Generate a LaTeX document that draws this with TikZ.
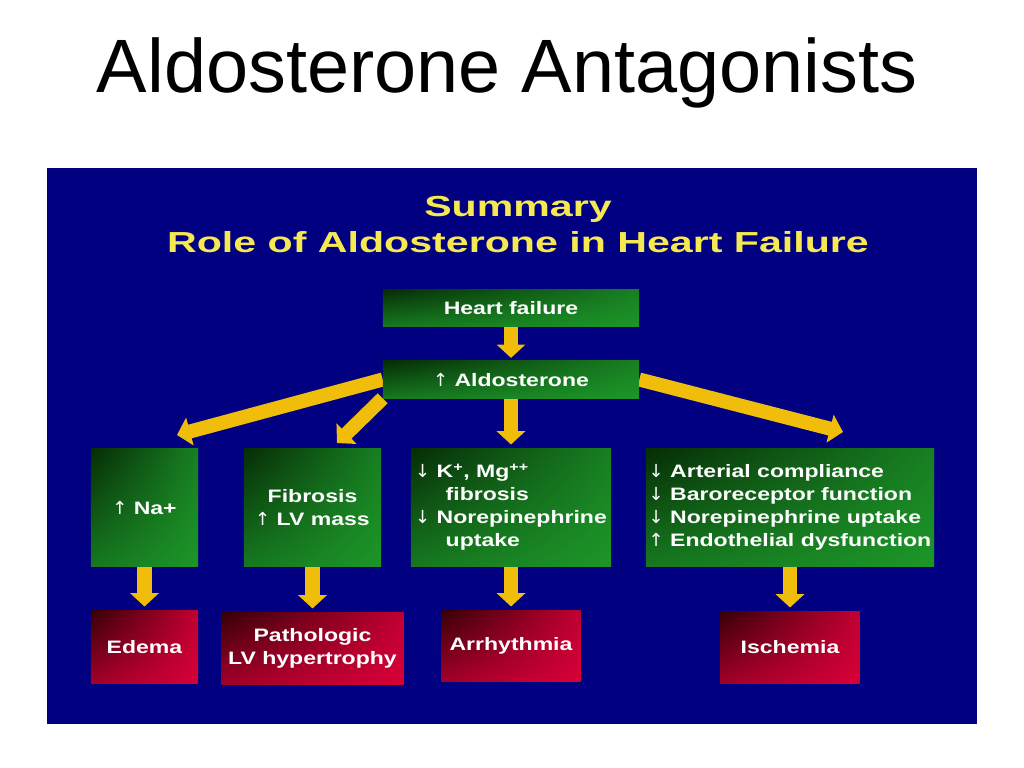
\documentclass[tikz,border=0pt]{standalone}
\usepackage{fontspec}
\setmainfont{Liberation Sans}
\newfontfamily\boxfont{Liberation Sans}[FakeStretch=1.28]
\newfontfamily\sumfont{Liberation Sans}[FakeStretch=1.42]
\newfontfamily\arrfont{DejaVu Sans}
\newcommand{\upar}{{\arrfont\mdseries ↑}}
\newcommand{\dnar}{{\arrfont\mdseries ↓}}
\usetikzlibrary{arrows.meta,shadings,backgrounds}
\definecolor{navy}{RGB}{0,0,128}
\definecolor{gold}{RGB}{240,190,10}
\definecolor{dkgreen}{RGB}{6,45,6}
\definecolor{ltgreen}{RGB}{28,150,40}
\definecolor{dkred}{RGB}{55,0,8}
\definecolor{ltred}{RGB}{215,0,55}
\definecolor{sumyellow}{RGB}{245,232,80}
\tikzstyle{gbox} = [rectangle, inner sep=2pt, align=center, text=white,
  upper left=dkgreen, upper right=ltgreen!85!black, lower left=ltgreen!80!black, lower right=ltgreen,
  font=\boxfont\bfseries\fontsize{12.8}{16.4}\selectfont]
\tikzstyle{rbox} = [rectangle, inner sep=2pt, align=center, text=white,
  upper left=dkred, upper right=ltred!90!black, lower left=ltred!75!black, lower right=ltred,
  font=\boxfont\bfseries\fontsize{12.8}{16.4}\selectfont]
\tikzstyle{fat} = [draw=gold, line width=10pt, -{Triangle[length=9.5pt,width=20pt]}]

\begin{document}
\begin{tikzpicture}[x=0.025cm,y=-0.025cm]

\node[font=\fontsize{53.8}{60}\selectfont] (head) at (507,73) {Aldosterone Antagonists};

\node[font=\sumfont\bfseries\fontsize{20.6}{25.6}\selectfont, text=sumyellow, align=center] (sum) at (518,225)
  {Summary\\Role of Aldosterone in Heart Failure};

\node[gbox, minimum width=6.4cm, minimum height=0.9cm] (hf) at (511,308) {Heart failure};
\node[gbox, minimum width=6.4cm, minimum height=0.925cm] (ald) at (511,379.5) {\upar\ Aldosterone};

\node[gbox, minimum width=2.675cm, minimum height=2.925cm] (na) at (144.5,507.5) {\upar\ Na+};
\node[gbox, minimum width=3.425cm, minimum height=2.925cm] (fib) at (312.5,507.5) {Fibrosis\\\upar\ LV mass};
\node[gbox, minimum width=5cm, minimum height=2.925cm, align=left] (k) at (511,507.5)
  {\dnar\ K\textsuperscript{+}, Mg\textsuperscript{++}\\\hspace*{1.7em}fibrosis\\\dnar\ Norepinephrine\\\hspace*{1.7em}uptake};
\node[gbox, minimum width=7.2cm, minimum height=2.925cm, align=left] (art) at (790,507.5)
  {\dnar\ Arterial compliance\\\dnar\ Baroreceptor function\\\dnar\ Norepinephrine uptake\\\upar\ Endothelial dysfunction};

\node[rbox, minimum width=2.675cm, minimum height=1.8cm] (ede) at (144.5,647) {Edema};
\node[rbox, minimum width=4.55cm, minimum height=1.775cm] (pat) at (312.5,648.5) {Pathologic\\LV hypertrophy};
\node[rbox, minimum width=3.475cm, minimum height=1.75cm] (arr) at (511,646) {Arrhythmia};
\node[rbox, minimum width=3.475cm, minimum height=1.775cm] (isc) at (790,647.5) {Ischemia};

\coordinate (tipa) at (177,435);
\coordinate (tipb) at (337,443);
\coordinate (tipd) at (843,432);

\begin{scope}[on background layer]
\fill[white] (0,0) rectangle (1024,768);
\fill[navy] (47,168) rectangle (977,724);
\path
(hf) edge [fat, shorten >=2pt] (ald)
(ald.west) edge [fat] (tipa)
(ald.south west) edge [fat] (tipb)
(ald) edge [fat, shorten >=3pt] (k)
(ald.east) edge [fat] (tipd)
(na) edge [fat, shorten >=3pt] (ede)
(fib) edge [fat, shorten >=3pt] (pat)
(k) edge [fat, shorten >=3pt] (arr)
(art) edge [fat, shorten >=3pt] (isc);
\end{scope}
\end{tikzpicture}
\end{document}
